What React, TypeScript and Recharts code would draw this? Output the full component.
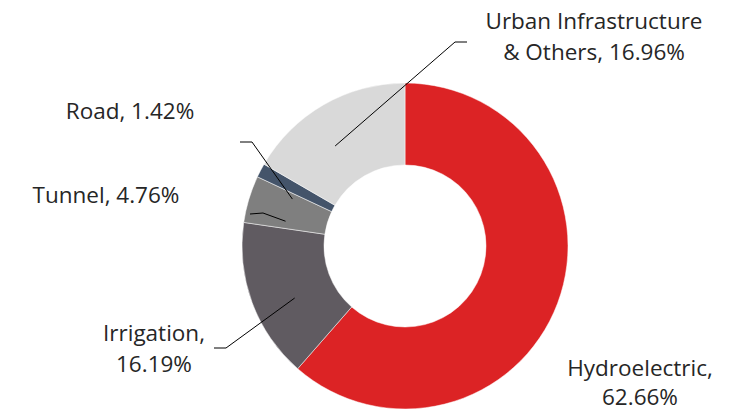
import React from 'react';
import { PieChart, Pie, Cell } from 'recharts';

// Sector names and shares (%), clockwise from 12 o'clock
const sectors = ['Hydroelectric', 'Irrigation', 'Tunnel', 'Road', 'Urban Infrastructure & Others'];
const shares = [62.66, 16.19, 4.76, 1.42, 16.96];
const labelLines = [
  ['Hydroelectric,', '62.66%'],
  ['Irrigation,', '16.19%'],
  ['Tunnel, 4.76%'],
  ['Road, 1.42%'],
  ['Urban Infrastructure', '& Others, 16.96%'],
];
const colors = ['#DC2325', '#605B61', '#7F7F7F', '#44546A', '#D9D9D9'];

const data = sectors.map((name, i) => ({ name, value: shares[i] }));

// label placement: text centre, first baseline, line gap, leader-line elbow points
const labelLayout = [
  { x: 640, y: 376, gap: 29, elbow: null },
  { x: 154, y: 341, gap: 31, elbow: [[226, 348], [214, 348]] },
  { x: 106, y: 203, gap: 31, elbow: [[263, 213], [250, 214]] },
  { x: 130, y: 119, gap: 31, elbow: [[252, 142], [240, 142]] },
  { x: 594, y: 29, gap: 31, elbow: [[455, 42], [467, 42]] },
];

const RAD = Math.PI / 180;

const renderLabel = (props: any) => {
  const { cx, cy, midAngle, innerRadius, outerRadius, index } = props;
  const lay = labelLayout[index];
  const r = (innerRadius + outerRadius) / 2;
  const a = midAngle + 5;
  const sx = cx + r * Math.cos(-a * RAD);
  const sy = cy + r * Math.sin(-a * RAD);
  const lines = labelLines[index];
  return (
    <g key={`lbl-${index}`}>
      {lay.elbow && (
        <polyline
          points={[[sx, sy], ...lay.elbow].map((p) => p.join(',')).join(' ')}
          fill="none"
          stroke="#000"
          strokeWidth={1}
        />
      )}
      <text x={lay.x} y={lay.y} textAnchor="middle" fill="#262626" fontSize={22.5} fontFamily="'Open Sans', sans-serif">
        {lines.map((t, k) => (
          <tspan key={k} x={lay.x} dy={k === 0 ? 0 : lay.gap}>{t}</tspan>
        ))}
      </text>
    </g>
  );
};

export default function App() {
  return (
    <div style={{ position: 'absolute', left: 0, top: 0, background: '#fff' }}>
      <PieChart width={730} height={413} margin={{ top: 0, right: 0, bottom: 0, left: 0 }}>
        <Pie
          data={data}
          dataKey="value"
          nameKey="name"
          cx={405}
          cy={246}
          innerRadius={81}
          outerRadius={163}
          startAngle={90}
          endAngle={-270}
          stroke="#fff"
          strokeWidth={0.5}
          label={renderLabel}
          labelLine={false}
          isAnimationActive={false}
        >
          {data.map((d, i) => (
            <Cell key={d.name} fill={colors[i]} />
          ))}
        </Pie>
      </PieChart>
    </div>
  );
}
